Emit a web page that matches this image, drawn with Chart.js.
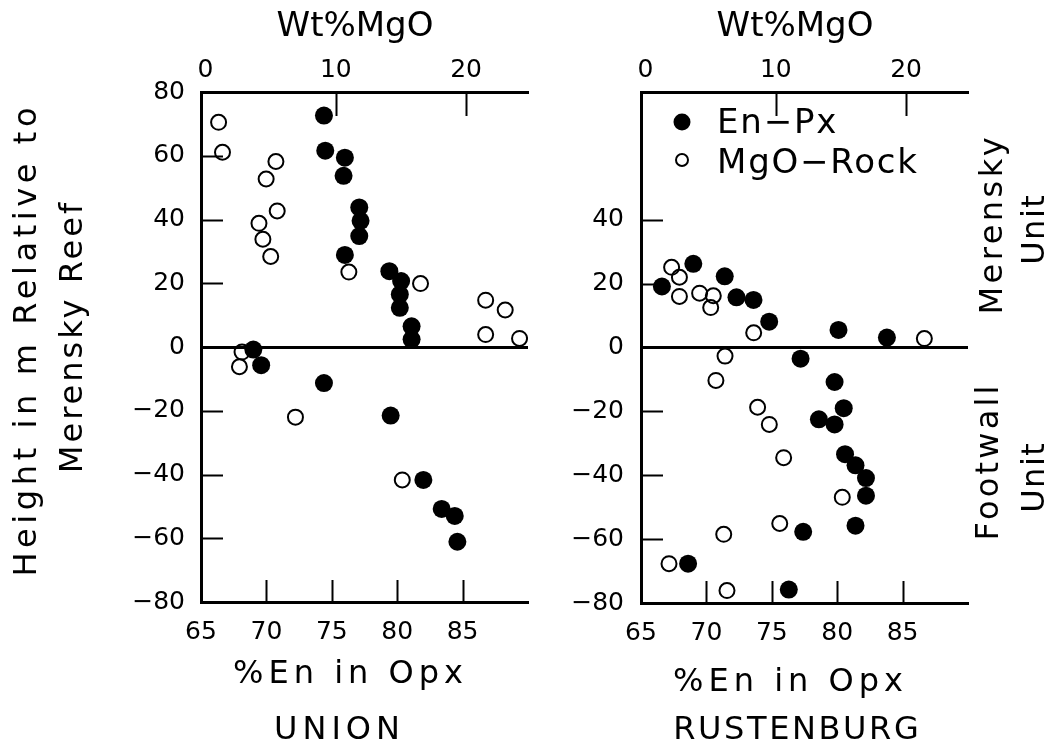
<!DOCTYPE html>
<html>
<head>
<meta charset="utf-8">
<title>Height vs %En and Wt%MgO — Union and Rustenburg</title>
<script src="https://cdn.jsdelivr.net/npm/chart.js@4/dist/chart.umd.min.js"></script>
<style>
  html, body { margin: 0; padding: 0; background: #fff; }
  #wrap { position: relative; width: 1057px; height: 745px; overflow: hidden; }
  canvas { position: absolute; top: 0; }
  #union { left: 0; }
  #rust { left: 560px; }
</style>
</head>
<body>
<div id="wrap">
  <canvas id="union" width="560" height="745"></canvas>
  <canvas id="rust" width="497" height="745"></canvas>
</div>
<script>
// ---- Union section ----
const unionEnPxEn = [74.4, 74.5, 76.0, 75.9, 77.1, 77.2, 77.1, 76.0, 79.4, 80.3, 80.2, 80.2, 81.1, 81.1,
                     69.0, 69.6, 74.4, 79.5, 82.0, 83.4, 84.4, 84.6];
const unionEnPxH  = [72.6, 61.6, 59.4, 53.7, 43.8, 39.6, 34.8, 28.9, 23.8, 20.7, 16.5, 12.3, 6.5, 2.4,
                     -0.8, -5.7, -11.3, -21.5, -41.7, -50.8, -53.0, -61.1];
const unionRockMgO = [1.0, 1.3, 5.4, 4.65, 5.5, 4.1, 4.4, 5.0, 11.0, 16.5, 21.5, 23.0, 21.5, 24.1,
                      2.8, 2.6, 6.9, 15.1];
const unionRockH   = [70.5, 61.1, 58.2, 52.7, 42.7, 38.8, 33.8, 28.4, 23.5, 19.9, 14.7, 11.6, 3.9, 2.7,
                      -1.6, -6.2, -22.0, -41.7];

// ---- Rustenburg section ----
const rustEnPxEn = [66.6, 69.0, 71.4, 72.3, 73.6, 74.8, 80.1, 83.8, 77.2, 79.8, 80.5, 78.6, 79.8, 80.6,
                    81.4, 82.2, 82.2, 81.4, 77.4, 68.6, 76.3];
const rustEnPxH  = [19.1, 26.2, 22.3, 15.7, 14.9, 8.1, 5.5, 3.1, -3.5, -10.8, -19.0, -22.5, -24.1, -33.4,
                    -36.9, -40.9, -46.4, -55.8, -57.7, -67.7, -75.8];
const rustRockMgO = [2.0, 2.6, 2.6, 4.15, 5.2, 5.0, 8.3, 21.4, 6.1, 5.4, 8.6, 9.5, 10.6, 15.1,
                     10.3, 6.0, 1.8, 6.25];
const rustRockH   = [25.1, 22.0, 16.0, 17.0, 16.2, 12.5, 4.6, 2.8, -2.7, -10.3, -18.7, -24.1, -34.5, -46.9,
                     -55.1, -58.5, -67.7, -76.1];

// ---- tick labels ----
const enTickLabels = [65, 70, 75, 80, 85];
const mgoTickLabels = [0, 10, 20];
const unionHeightTicks = [80, 60, 40, 20, 0, -20, -40, -60, -80];
const rustHeightTicks = [40, 20, 0, -20, -40, -60, -80];
const seriesNames = ['En\u2212Px', 'MgO\u2212Rock'];

const FONT = '"DejaVu Sans", "Liberation Sans", sans-serif';
Chart.defaults.font.family = FONT;
Chart.defaults.color = '#000';

const toPoints = (xs, ys) => xs.map((x, i) => ({ x: x, y: ys[i] }));
const minusFmt = v => (v < 0 ? '\u2212' + Math.abs(v) : String(v));

// Text drawn centred on its cap height, optionally rotated to read upwards.
function capText(ctx, t) {
  const sp = t.spacing || 0;
  ctx.save();
  ctx.font = t.size + 'px ' + FONT;
  ctx.letterSpacing = sp + 'px';
  ctx.fillStyle = '#000';
  ctx.textAlign = t.align || 'center';
  ctx.textBaseline = 'alphabetic';
  ctx.translate(t.x, t.y);
  if (t.rotate) ctx.rotate(-Math.PI / 2);
  const dx = (t.align === 'left') ? 0 : sp / 2;
  ctx.fillText(t.text, dx, t.size * 0.729 / 2);
  ctx.restore();
}

// Short tick marks pointing into the plot area.
const innerTicks = {
  id: 'innerTicks',
  beforeDatasetsDraw(chart, args, opts) {
    const ctx = chart.ctx, a = chart.chartArea;
    ctx.save();
    ctx.strokeStyle = '#000';
    ctx.lineWidth = 2;
    ['x', 'x2', 'y'].forEach(id => {
      const s = chart.scales[id];
      s.ticks.forEach(t => {
        const v = t.value;
        if (v === 0 || v === s.min || v === s.max) return;
        const p = Math.round(s.getPixelForValue(v)) + 0.5;
        ctx.beginPath();
        if (id === 'x') { ctx.moveTo(p, a.bottom); ctx.lineTo(p, a.bottom - opts.bottom); }
        else if (id === 'x2') { ctx.moveTo(p, a.top); ctx.lineTo(p, a.top + opts.top); }
        else { ctx.moveTo(a.left, p); ctx.lineTo(a.left + opts.left, p); }
        ctx.stroke();
      });
    });
    ctx.restore();
  }
};

// Axis titles and panel captions.
const panelText = {
  id: 'panelText',
  afterDraw(chart, args, opts) {
    (opts.items || []).forEach(t => capText(chart.ctx, t));
  }
};

// Legend placed inside the plot area, one entry per dataset.
const insideLegend = {
  id: 'insideLegend',
  afterDatasetsDraw(chart, args, opts) {
    if (!opts.show) return;
    const ctx = chart.ctx;
    chart.data.datasets.forEach((ds, i) => {
      const y = opts.y + i * opts.dy;
      ctx.save();
      ctx.beginPath();
      ctx.arc(opts.x, y, opts.radii[i], 0, Math.PI * 2);
      if (ds.backgroundColor && ds.backgroundColor !== 'transparent') {
        ctx.fillStyle = ds.backgroundColor; ctx.fill();
      }
      if (ds.borderWidth) {
        ctx.lineWidth = ds.borderWidth; ctx.strokeStyle = ds.borderColor; ctx.stroke();
      }
      ctx.restore();
      capText(ctx, { text: ds.label, x: opts.textX, y: y + opts.textDy[i], size: opts.size,
                     spacing: opts.spacing, align: 'left' });
    });
  }
};

function makeChart(canvasId, cfg) {
  const axisBase = {
    type: 'linear',
    bounds: 'data',
    grid: { color: 'transparent', drawTicks: false },
    border: { display: true, color: '#000', width: 3 },
  };
  return new Chart(document.getElementById(canvasId), {
    type: 'scatter',
    data: {
      datasets: [
        { label: seriesNames[0], data: cfg.enPx, xAxisID: 'x', yAxisID: 'y',
          pointRadius: 9, pointHoverRadius: 9, backgroundColor: '#000', borderColor: '#000', borderWidth: 0 },
        { label: seriesNames[1], data: cfg.rock, xAxisID: 'x2', yAxisID: 'y',
          pointRadius: 7.5, pointHoverRadius: 7.5, backgroundColor: 'transparent', borderColor: '#000', borderWidth: 2 }
      ]
    },
    options: {
      responsive: false,
      animation: false,
      events: [],
      layout: { padding: { left: 0, right: cfg.padRight, top: 0, bottom: 0 } },
      scales: {
        x: Object.assign({}, axisBase, {
          position: 'bottom', min: 65, max: 90,
          afterBuildTicks: s => { s.ticks = enTickLabels.map(v => ({ value: v })); },
          afterFit: s => { s.height = cfg.bottomH; },
          ticks: { padding: 15, font: { size: 25 }, maxRotation: 0, autoSkip: false, color: '#000' }
        }),
        x2: Object.assign({}, axisBase, {
          position: 'top', min: -0.35, max: 24.75,
          afterBuildTicks: s => { s.ticks = mgoTickLabels.map(v => ({ value: v })); },
          afterFit: s => { s.height = cfg.topH; },
          ticks: { padding: 7, font: { size: 25 }, maxRotation: 0, autoSkip: false, color: '#000' }
        }),
        y: Object.assign({}, axisBase, {
          position: 'left', min: -80, max: 80,
          afterBuildTicks: s => { s.ticks = cfg.yTicks.map(v => ({ value: v })); },
          afterFit: s => { s.width = cfg.leftW; },
          grid: {
            drawTicks: false,
            color: c => (c.tick && c.tick.value === 0 ? '#000' : 'transparent'),
            lineWidth: c => (c.tick && c.tick.value === 0 ? 3 : 0)
          },
          ticks: { padding: cfg.yPad, font: { size: 25 }, autoSkip: false, color: '#000',
                   callback: v => minusFmt(v) }
        })
      },
      plugins: {
        legend: { display: false },
        tooltip: { enabled: false },
        innerTicks: { bottom: 22, top: 24, left: 22 },
        panelText: { items: cfg.texts },
        insideLegend: cfg.legend
      }
    },
    plugins: [innerTicks, panelText, insideLegend]
  });
}

makeChart('union', {
  enPx: toPoints(unionEnPxEn, unionEnPxH),
  rock: toPoints(unionRockMgO, unionRockH),
  yTicks: unionHeightTicks,
  leftW: 201, topH: 92, bottomH: 143, padRight: 32, yPad: 16,
  texts: [
    { text: 'Wt%MgO', x: 355, y: 24, size: 34, spacing: 0 },
    { text: '%En in Opx', x: 348, y: 671, size: 32, spacing: 5 },
    { text: 'UNION', x: 337, y: 727, size: 32, spacing: 5 },
    { text: 'Height in m Relative to', x: 24, y: 342, size: 32, spacing: 4.6, rotate: true },
    { text: 'Merensky Reef', x: 70, y: 338, size: 32, spacing: 3, rotate: true }
  ],
  legend: { show: false }
});

makeChart('rust', {
  enPx: toPoints(rustEnPxEn, rustEnPxH),
  rock: toPoints(rustRockMgO, rustRockH),
  yTicks: rustHeightTicks,
  leftW: 81, topH: 92, bottomH: 142, padRight: 89, yPad: 17,
  texts: [
    { text: 'Wt%MgO', x: 235, y: 24, size: 34, spacing: 0 },
    { text: '%En in Opx', x: 228, y: 679, size: 32, spacing: 5 },
    { text: 'RUSTENBURG', x: 236, y: 727, size: 32, spacing: 2.6 },
    { text: 'Merensky', x: 430, y: 226, size: 32, spacing: 3.5, rotate: true },
    { text: 'Unit', x: 472, y: 230, size: 32, spacing: 1.5, rotate: true },
    { text: 'Footwall', x: 426, y: 463, size: 32, spacing: 3.2, rotate: true },
    { text: 'Unit', x: 472, y: 478, size: 32, spacing: 1.5, rotate: true }
  ],
  legend: { show: true, x: 122, y: 122, dy: 38, radii: [8.5, 6], textX: 157, textDy: [-1, 1],
            size: 34, spacing: 1.8 }
});
</script>
</body>
</html>
